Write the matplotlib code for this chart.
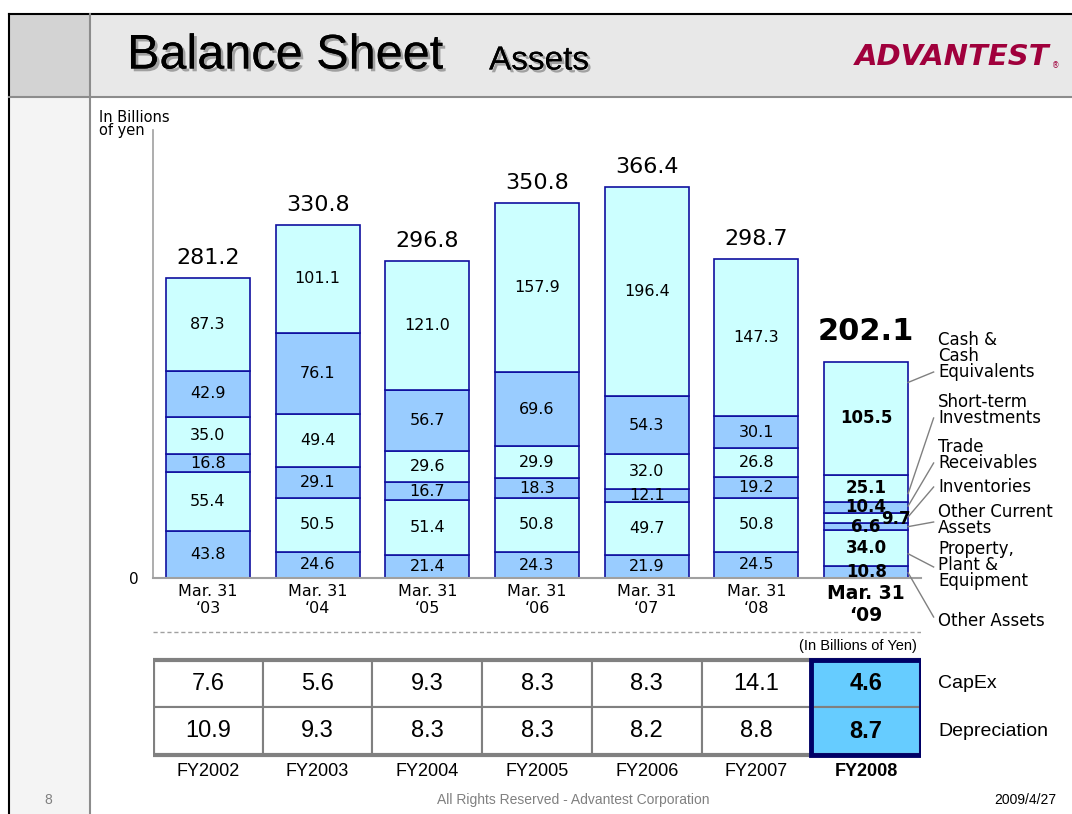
import matplotlib
import matplotlib.pyplot as plt
import matplotlib.patheffects as pe
from matplotlib.patches import Rectangle
import numpy as np

plt.switch_backend('agg')

# --- data (billions of yen) ---
dates = ['Mar. 31\n\u201803', 'Mar. 31\n\u201804', 'Mar. 31\n\u201805', 'Mar. 31\n\u201806',
         'Mar. 31\n\u201807', 'Mar. 31\n\u201808', 'Mar. 31\n\u201809']
other_assets = [43.8, 24.6, 21.4, 24.3, 21.9, 24.5, 10.8]
ppe = [55.4, 50.5, 51.4, 50.8, 49.7, 50.8, 34.0]
other_current = [16.8, 29.1, 16.7, 18.3, 12.1, 19.2, 6.6]
inventories = [35.0, 49.4, 29.6, 29.9, 32.0, 26.8, 9.7]
trade_rec = [42.9, 76.1, 56.7, 69.6, 54.3, 30.1, 10.4]
short_term = [0, 0, 0, 0, 0, 0, 25.1]
cash = [87.3, 101.1, 121.0, 157.9, 196.4, 147.3, 105.5]
totals = [281.2, 330.8, 296.8, 350.8, 366.4, 298.7, 202.1]

fy_labels = ['FY2002', 'FY2003', 'FY2004', 'FY2005', 'FY2006', 'FY2007', 'FY2008']
capex = [7.6, 5.6, 9.3, 8.3, 8.3, 14.1, 4.6]
depreciation = [10.9, 9.3, 8.3, 8.3, 8.2, 8.8, 8.7]

legend_names = ['Other Assets', 'Property,\nPlant &\nEquipment', 'Other Current\nAssets',
                'Inventories', 'Trade\nReceivables', 'Short-term\nInvestments',
                'Cash &\nCash\nEquivalents']

LIGHT = '#CCFFFF'
DARK = '#99CCFF'
EDGE = '#1010A0'
NARROW = 'Liberation Sans'

W, H = 1072, 814
fig = plt.figure(figsize=(W / 100, H / 100), dpi=100)

# background / slide frame in pixel coords
bg = fig.add_axes([0, 0, 1, 1])
bg.set_xlim(0, W)
bg.set_ylim(H, 0)
bg.axis('off')
bg.add_patch(Rectangle((9, 14), W, 83, facecolor='#E8E8E8', edgecolor='none'))
bg.add_patch(Rectangle((9, 14), 81, 83, facecolor='#D3D3D3', edgecolor='none'))
bg.add_patch(Rectangle((9, 97), 81, H, facecolor='#F4F4F4', edgecolor='none'))
bg.plot([9, W], [14, 14], color='black', lw=1.5)
bg.plot([9, 9], [14, H], color='black', lw=1.5)
bg.plot([9, W], [97, 97], color='#8C8C8C', lw=1.5)
bg.plot([90, 90], [14, H], color='#8C8C8C', lw=1.5)

shadow = [pe.withSimplePatchShadow(offset=(2, -2), shadow_rgbFace='#A0A0A0', alpha=1), pe.Normal()]
bg.text(127, 56, 'Balance Sheet', fontsize=35, family=NARROW, va='center', ha='left', path_effects=shadow)
bg.text(489, 61, 'Assets', fontsize=24, family=NARROW, va='center', ha='left', path_effects=shadow)
bg.text(855, 57, 'ADVANTEST', fontsize=21, fontweight='heavy', style='italic', color='#A0003C',
        va='center', ha='left')
bg.text(1052, 66, '\u00ae', fontsize=5.5, color='#A0003C', va='center', ha='left')

bg.text(48, 800, '8', fontsize=10, color='#808080', family='Liberation Sans', ha='center', va='center')
bg.text(573, 800, 'All Rights Reserved - Advantest Corporation', fontsize=10, color='#808080',
        family='Liberation Sans', ha='center', va='center')
bg.text(1056, 800, '2009/4/27', fontsize=10, color='black', family='Liberation Sans', ha='right', va='center')
bg.text(99, 124, 'In Billions\nof yen', fontsize=10.5, ha='left', va='center', linespacing=0.85)

# --- stacked bars ---
PXU = 1.068
ax = fig.add_axes([153 / W, (H - 578) / H, 768 / W, 448 / H])
ax.set_xlim(-0.5, 6.5)
ax.set_ylim(0, 448 / PXU)
ax.patch.set_alpha(0)
for s in ['top', 'right']:
    ax.spines[s].set_visible(False)
ax.spines['left'].set_color('#A0A0A0')
ax.spines['bottom'].set_color('#A0A0A0')
ax.spines['left'].set_linewidth(1.2)
ax.spines['bottom'].set_linewidth(1.5)

x = np.arange(len(dates))
series = [other_assets, ppe, other_current, inventories, trade_rec, short_term, cash]
colors = [DARK, LIGHT, DARK, LIGHT, DARK, LIGHT, LIGHT]
bottom = np.zeros(len(dates))
bottoms = []
for vals, col in zip(series, colors):
    vals = np.array(vals, dtype=float)
    ax.bar(x, vals, 0.765, bottom=bottom, color=col, edgecolor=EDGE, linewidth=1.2, zorder=2)
    for i, v in enumerate(vals):
        if v <= 0:
            continue
        last = i == len(dates) - 1
        dx = 0.27 if (last and v == 9.7) else 0
        dy = -0.8 if (last and v == 9.7) else 0
        ax.text(i + dx, bottom[i] + v / 2 + dy, f'{v:.1f}', ha='center', va='center',
                fontsize=12 if last else 11.5, fontweight='bold' if last else 'normal', zorder=3)
    bottoms.append(bottom.copy())
    bottom = bottom + vals

for i, t in enumerate(totals):
    last = i == len(totals) - 1
    ax.annotate(f'{t:.1f}', (i, t), xytext=(0, 22 if last else 14), textcoords='offset pixels',
                ha='center', va='baseline', fontsize=22 if last else 16,
                fontweight='bold' if last else 'normal')

ax.set_yticks([0])
ax.set_yticklabels(['0'], fontsize=11)
ax.set_xticks(x)
ax.set_xticklabels(dates, fontsize=11.5, linespacing=1.2)
ax.tick_params(length=0, pad=4)
ax.tick_params(axis='y', pad=10)
lab = ax.get_xticklabels()[-1]
lab.set_fontweight('bold')
lab.set_fontsize(13.5)

# leader lines for the last bar
edge_x = 6 + 0.765 / 2
text_x = 6 + (938 - 921) / 109.7 + 0.5
end_x = text_x - 0.04
frac = [0.45, 0.35, 0.5, 0.6, 0.6, 0.3, 0.82]
text_px = [621, 565, 520, 487, 455, 410, 356]
end_px = [617, 567, 522, 487, 463, 418, 372]
for k, name in enumerate(legend_names):
    y0 = bottoms[k][-1] + series[k][-1] * frac[k]
    ax.plot([edge_x, end_x], [y0, (578 - end_px[k]) / PXU], color='#808080', lw=1,
            clip_on=False, zorder=4)
    ax.text(text_x, (578 - text_px[k]) / PXU, name, ha='left', va='center', fontsize=12,
            linespacing=0.85, clip_on=False)

# --- capex / depreciation table ---
tax = fig.add_axes([153 / W, (H - 790) / H, 768 / W, 170 / H])
tax.set_xlim(-0.5, 6.5)
tax.set_ylim(790, 620)
tax.axis('off')
tax.plot([-0.5, 6.5], [632, 632], color='#A0A0A0', lw=1, ls=(0, (3, 2)))
tax.text(6.46, 646, '(In Billions of Yen)', ha='right', va='center', fontsize=10.5, family=NARROW)
row_top = [660, 707.5]
row_h = 47.5
for r, vals in enumerate([capex, depreciation]):
    for i, v in enumerate(vals):
        last = i == len(vals) - 1
        tax.add_patch(Rectangle((i - 0.5, row_top[r]), 1, row_h, facecolor='#66CCFF' if last else 'white',
                                edgecolor='#808080', lw=1.5))
        tax.text(i, row_top[r] + row_h / 2, f'{v:.1f}', ha='center', va='center', fontsize=17,
                 family=NARROW, fontweight='bold' if last else 'normal')
tax.add_patch(Rectangle((-0.5, 660), 7, 2 * row_h, facecolor='none', edgecolor='#808080', lw=3))
tax.add_patch(Rectangle((5.5, 660), 1, 2 * row_h, facecolor='none', edgecolor='#000066', lw=3.5))
tax.text(text_x, 684, 'CapEx', ha='left', va='center', fontsize=14, family=NARROW)
tax.text(text_x, 732, 'Depreciation', ha='left', va='center', fontsize=14, family=NARROW)
for i, f in enumerate(fy_labels):
    last = i == len(fy_labels) - 1
    tax.text(i, 772, f, ha='center', va='center', fontsize=13, family=NARROW,
             fontweight='bold' if last else 'normal')

fig.savefig('out.png', dpi=100)
